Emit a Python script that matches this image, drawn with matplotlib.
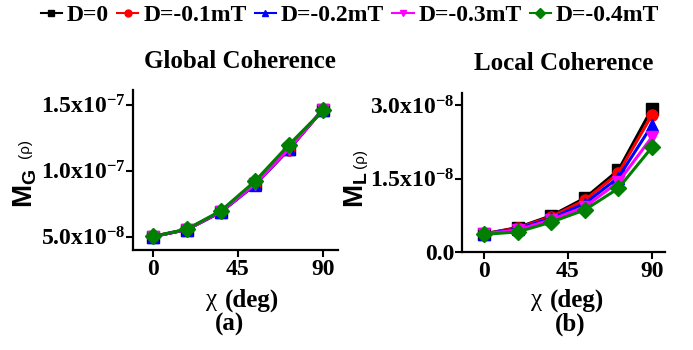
import matplotlib
matplotlib.use("Agg")
import matplotlib.pyplot as plt

plt.rcParams['font.family'] = 'Liberation Serif'
plt.rcParams['font.weight'] = 'bold'
plt.rcParams['mathtext.fontset'] = 'custom'
plt.rcParams['mathtext.rm'] = 'Liberation Serif:bold'
plt.rcParams['mathtext.it'] = 'Liberation Serif:bold'
plt.rcParams['mathtext.bf'] = 'Liberation Serif:bold'
plt.rcParams['mathtext.sf'] = 'Liberation Sans:bold'
plt.rcParams['mathtext.default'] = 'rm'

# data
chi = [0, 18, 36, 54, 72, 90]
labels = ['D=0', 'D=-0.1mT', 'D=-0.2mT', 'D=-0.3mT', 'D=-0.4mT']
colors = ['black', 'red', 'blue', 'magenta', 'green']
markers = ['s', 'o', '^', 'v', 'D']

# global coherence (x1e-8)
mg_d0 = [5.02, 5.55, 6.90, 8.98, 11.65, 14.62]
mg_d1 = [5.02, 5.55, 6.88, 8.95, 11.60, 14.60]
mg_d2 = [5.01, 5.54, 6.87, 8.93, 11.62, 14.62]
mg_d3 = [5.02, 5.55, 6.90, 8.97, 11.66, 14.60]
mg_d4 = [5.03, 5.58, 6.97, 9.20, 11.96, 14.55]

# local coherence (x1e-8)
ml_d0 = [0.37, 0.50, 0.74, 1.10, 1.67, 2.93]
ml_d1 = [0.37, 0.49, 0.72, 1.06, 1.61, 2.80]
ml_d2 = [0.37, 0.47, 0.69, 0.99, 1.52, 2.59]
ml_d3 = [0.37, 0.45, 0.66, 0.92, 1.43, 2.35]
ml_d4 = [0.36, 0.41, 0.61, 0.86, 1.30, 2.14]

xticks = [0, 45, 90]
mg_ticks = [5e-8, 1e-7, 1.5e-7]
mg_ticklabels = ['5.0x10$^{-8}$', '1.0x10$^{-7}$', '1.5x10$^{-7}$']
ml_ticks = [0.0, 1.5e-8, 3.0e-8]
ml_ticklabels = ['0.0', '1.5x10$^{-8}$', '3.0x10$^{-8}$']

W, H = 693, 350
fig = plt.figure(figsize=(6.93, 3.5), dpi=100)

ax1 = fig.add_axes([133 / W, 1 - 250 / H, 205 / W, 160 / H])
ax2 = fig.add_axes([462 / W, 1 - 252 / H, 203 / W, 159 / H])

mg_all = [mg_d0, mg_d1, mg_d2, mg_d3, mg_d4]
ml_all = [ml_d0, ml_d1, ml_d2, ml_d3, ml_d4]

handles = []
for ys, c, m, lab in zip(mg_all, colors, markers, labels):
    ax1.plot(chi, [v * 1e-8 for v in ys], color=c, marker=m, lw=2.2, ms=8)
    h, = plt.plot([], [], color=c, marker=m, lw=1.5, ms=5, label=lab)
    handles.append(h)
for ys, c, m in zip(ml_all, colors, markers):
    ax2.plot(chi, [v * 1e-8 for v in ys], color=c, marker=m, lw=2.2, ms=8)

for ax in (ax1, ax2):
    for s in ('top', 'right'):
        ax.spines[s].set_visible(False)
    for s in ('left', 'bottom'):
        ax.spines[s].set_linewidth(1.6)
    ax.tick_params(direction='out', length=5, width=1.5, labelsize=17)
    ax.tick_params(axis='y', pad=0.5)
    ax.tick_params(axis='x', pad=1.5)
    ax.set_xticks(xticks)
    ax.set_xticklabels([str(t) for t in xticks])

ax1.set_xlim(-10.6, 98)
ax1.set_ylim(4.0e-8, 1.61e-7)
ax1.set_yticks(mg_ticks)
ax1.set_yticklabels(mg_ticklabels)

ax2.set_xlim(-11.8, 97)
ax2.set_ylim(0, 3.25e-8)
ax2.set_yticks(ml_ticks)
ax2.set_yticklabels(ml_ticklabels)

# titles
fig.text(240 / W, 1 - 62 / H, 'Global Coherence', ha='center', va='center', fontsize=18)
fig.text(564 / W, 1 - 63 / H, 'Local Coherence', ha='center', va='center', fontsize=18)

# y labels
fig.text(25 / W, 1 - 188 / H, r'$\mathsf{M_G}$', rotation=90, ha='center', va='center', fontsize=20)
fig.text(25 / W, 1 - 148 / H, '(ρ)', rotation=90, ha='center', va='center', fontsize=11,
         family='Liberation Sans', weight='normal')
fig.text(356 / W, 1 - 190 / H, r'$\mathsf{M_L}$', rotation=90, ha='center', va='center', fontsize=20)
fig.text(360 / W, 1 - 158 / H, '(ρ)', rotation=90, ha='center', va='center', fontsize=11,
         family='Liberation Sans', weight='normal')

# x labels
for xc, xd in ((212, 252), (537, 577)):
    fig.text(xc / W, 1 - 300 / H, 'χ', ha='center', va='center', fontsize=18, weight='normal')
    fig.text(xd / W, 1 - 300 / H, '(deg)', ha='center', va='center', fontsize=18)
fig.text(230 / W, 1 - 324 / H, '(a)', ha='center', va='center', fontsize=18)
fig.text(570 / W, 1 - 324 / H, '(b)', ha='center', va='center', fontsize=18)

fig.legend(handles=handles, loc='center', bbox_to_anchor=(350 / W, 1 - 15 / H), ncol=5,
           frameon=False, fontsize=17, handlelength=0.9, handletextpad=0.2,
           columnspacing=0.35, borderpad=0, borderaxespad=0)

fig.savefig('out.png', dpi=100)
